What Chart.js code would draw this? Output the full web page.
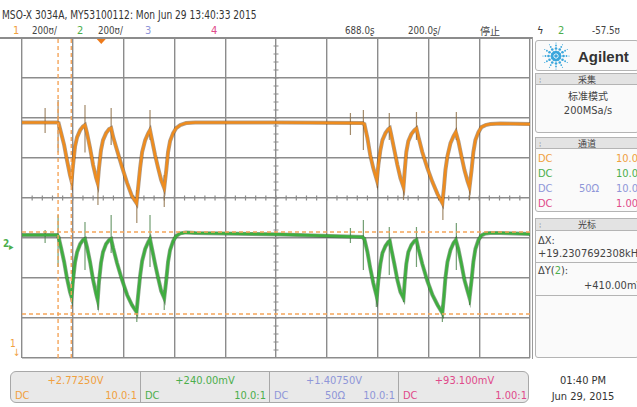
<!DOCTYPE html>
<html>
<head>
<meta charset="utf-8">
<script src="https://cdn.jsdelivr.net/npm/chart.js@4.4.0/dist/chart.umd.min.js"></script>
<style>
body { margin: 0; width: 637px; height: 407px; background: #fff; position: relative; overflow: hidden;
       font-family: "Liberation Sans Narrow", "DejaVu Sans Condensed", "Liberation Sans", sans-serif; color: #444; }
.t { position: absolute; white-space: nowrap; font-size: 11px; line-height: 12px; }
.n { transform: scaleX(0.88); transform-origin: left center; }
.cjk { font-family: "Noto Sans CJK SC", sans-serif; font-size: 10px; }
.box { position: absolute; border: 1px solid #b4b4b4; border-radius: 3px; background: #fafafa; box-sizing: border-box; }
.hdr { position: absolute; background: #e3e3e3; border: 1px solid #b4b4b4; box-sizing: border-box; text-align: center;
       font-family: "Noto Sans CJK SC", sans-serif; font-size: 9px; line-height: 11px; color: #444; }
.hdr span { position: absolute; left: 3px; color: #999; font-size: 8px; }
#plot { position: absolute; left: 21px; top: 37px; }
.cell { position: absolute; top: 0; height: 100%; border-right: 1px solid #a8a8a8; box-sizing: border-box; }
.cell .v { position: absolute; top: 2px; width: 100%; text-align: center; font-size: 11px; }
.cell .l { position: absolute; left: 4px; top: 17px; font-size: 11px; }
.cell .r { position: absolute; right: 3px; top: 17px; font-size: 11px; }
.cell .m { position: absolute; top: 17px; font-size: 11px; }
</style>
</head>
<body>
<!-- header -->
<div class="t n" style="left:2px;top:9px;font-size:11.5px;color:#333">MSO-X 3034A, MY53100112: Mon Jun 29 13:40:33 2015</div>
<div class="t" style="left:13px;top:25px;color:#f0a040">1</div>
<div class="t n" style="left:32px;top:25px">200ʊ/</div>
<div class="t" style="left:77px;top:25px;color:#4cae4c">2</div>
<div class="t n" style="left:98px;top:25px">200ʊ/</div>
<div class="t" style="left:145px;top:25px;color:#8f96d8">3</div>
<div class="t" style="left:211px;top:25px;color:#e04a8a">4</div>
<div class="t n" style="left:345px;top:25px">688.0ʂ</div>
<div class="t n" style="left:408px;top:25px">200.0ʂ/</div>
<div class="t cjk" style="left:480px;top:25px">停止</div>
<div class="t" style="left:537px;top:25px;color:#333">ϟ</div>
<div class="t" style="left:558px;top:25px;color:#4cae4c">2</div>
<div class="t n" style="left:592px;top:25px">-57.5ʊ</div>
<div style="position:absolute;left:0;top:37px;width:532px;height:2px;background:#8c8c8c"></div>
<div style="position:absolute;left:532px;top:37px;width:1px;height:322px;background:#9a9a9a"></div>

<!-- plot -->
<canvas id="plot" width="510" height="322"></canvas>

<!-- channel markers at left -->
<div class="t" style="left:3px;top:238px;font-size:10px;color:#4cae4c;font-weight:bold">2</div>
<div class="t" style="left:9px;top:241px;font-size:10px;color:#4cae4c">▸</div>
<div class="t" style="left:10px;top:338px;font-size:10px;color:#f0a040">1</div>
<div class="t" style="left:13px;top:347px;font-size:10px;color:#f0a040">↓</div>

<!-- right panel -->
<div class="box" style="left:535px;top:40px;width:104px;height:31px">
  <svg id="logo" width="30" height="30" style="position:absolute;left:5px;top:0"></svg>
  <div class="t" style="left:42px;top:8px;font-family:'Liberation Sans',sans-serif;font-weight:bold;font-size:15px;line-height:15px;color:#333">Agilent</div>
</div>
<div class="hdr" style="left:535px;top:73px;width:104px;height:12px"><span>⁞</span>采集</div>
<div class="box" style="left:535px;top:84px;width:104px;height:49px;border-radius:0 0 3px 3px">
  <div class="t cjk" style="left:0;width:104px;text-align:center;top:5px">标准模式</div>
  <div class="t" style="left:0;width:104px;text-align:center;top:20px">200MSa/s</div>
</div>
<div class="hdr" style="left:535px;top:137px;width:104px;height:12px"><span>⁞</span>通道</div>
<div class="box" style="left:535px;top:148px;width:104px;height:64px;border-radius:0 0 3px 3px">
  <div class="t" style="left:2px;top:4px;color:#f0a040">DC</div><div class="t" style="left:80px;top:4px;color:#f0a040">10.0:1</div>
  <div class="t" style="left:2px;top:19px;color:#4cae4c">DC</div><div class="t" style="left:80px;top:19px;color:#4cae4c">10.0:1</div>
  <div class="t" style="left:2px;top:34px;color:#8f96d8">DC</div><div class="t" style="left:43px;top:34px;color:#8f96d8">50Ω</div><div class="t" style="left:80px;top:34px;color:#8f96d8">10.0:1</div>
  <div class="t" style="left:2px;top:49px;color:#e04a8a">DC</div><div class="t" style="left:80px;top:49px;color:#e04a8a">1.00:1</div>
</div>
<div class="hdr" style="left:535px;top:218px;width:104px;height:13px"><span>⁞</span>光标</div>
<div class="box" style="left:535px;top:230px;width:104px;height:128px;border-radius:0 0 3px 3px;overflow:hidden">
  <div class="t" style="left:2px;top:4px">ΔX:</div>
  <div class="t" style="left:2px;top:17px">+19.2307692308kHz</div>
  <div style="position:absolute;left:0;top:31px;width:104px;height:1px;background:#b4b4b4"></div>
  <div class="t" style="left:2px;top:34px">ΔY(<span style="color:#4cae4c">2</span>):</div>
  <div class="t" style="left:48px;top:49px">+410.00mV</div>
  <div style="position:absolute;left:0;top:64px;width:104px;height:1px;background:#b4b4b4"></div>
</div>

<!-- bottom bar -->
<div style="position:absolute;left:10px;top:371px;width:519px;height:32px;background:#e9e9e9;border:1px solid #a8a8a8;border-radius:6px;box-sizing:border-box;overflow:hidden">
  <div class="cell" style="left:0;width:130px;color:#f0a040"><div class="v">+2.77250V</div><div class="l">DC</div><div class="r">10.0:1</div></div>
  <div class="cell" style="left:130px;width:129px;color:#4cae4c"><div class="v">+240.00mV</div><div class="l">DC</div><div class="r">10.0:1</div></div>
  <div class="cell" style="left:259px;width:129px;color:#8f96d8"><div class="v">+1.40750V</div><div class="l">DC</div><div class="m" style="left:55px">50Ω</div><div class="r">10.0:1</div></div>
  <div class="cell" style="left:388px;width:131px;color:#e04a8a;border-right:none"><div class="v">+93.100mV</div><div class="l">DC</div><div class="r">1.00:1</div></div>
</div>
<div class="t" style="left:533px;top:375px;width:100px;text-align:center;color:#333">01:40 PM</div>
<div class="t" style="left:533px;top:391px;width:100px;text-align:center;color:#333">Jun 29, 2015</div>

<script>
// time in microseconds, probe voltages in volts
const timeUs = [-312, -174, -168, -158, -146, -135, -123, -117, -111, -103,
  -95, -83, -72, -64, -56, -44, -32, -20, -14, -9,
  -1, 7, 19, 31, 39, 47, 62, 82, 102, 121,
  139, 145, 153, 161, 173, 185, 192, 200, 212, 224,
  236, 248, 256, 263, 271, 283, 295, 311, 334, 370,
  705, 1028, 1036, 1048, 1059, 1071, 1085, 1091, 1099, 1107,
  1119, 1130, 1136, 1142, 1154, 1166, 1178, 1190, 1195, 1201,
  1209, 1221, 1233, 1241, 1249, 1264, 1284, 1304, 1324, 1343,
  1349, 1355, 1363, 1375, 1387, 1396, 1406, 1418, 1430, 1442,
  1450, 1458, 1465, 1473, 1485, 1497, 1513, 1532, 1572, 1688];
const ch1Volts = [3.15, 3.15, 3.147, 3.097, 3.037, 2.962, 2.887, 2.857, 2.937, 3.032,
  3.077, 3.112, 3.13, 3.137, 3.097, 3.022, 2.937, 2.872, 2.847, 2.922,
  3.012, 3.062, 3.097, 3.117, 3.122, 3.077, 3.012, 2.927, 2.847, 2.782,
  2.747, 2.822, 2.922, 3.002, 3.062, 3.097, 3.112, 3.062, 2.987, 2.922,
  2.862, 2.822, 2.912, 3.002, 3.057, 3.097, 3.122, 3.137, 3.147, 3.15,
  3.15, 3.147, 3.142, 3.072, 2.987, 2.922, 2.862, 2.937, 3.012, 3.062,
  3.097, 3.117, 3.122, 3.087, 3.012, 2.937, 2.872, 2.827, 2.912, 3.002,
  3.057, 3.092, 3.112, 3.12, 3.077, 3.002, 2.922, 2.852, 2.792, 2.747,
  2.822, 2.912, 2.982, 3.047, 3.082, 3.102, 3.057, 2.982, 2.912, 2.857,
  2.827, 2.912, 3.002, 3.062, 3.102, 3.127, 3.137, 3.142, 3.145, 3.142];
const ch2Volts = [0.055, 0.055, 0.045, -0.01, -0.08, -0.16, -0.23, -0.255, -0.17, -0.08,
  -0.03, 0.01, 0.03, 0.035, -0.005, -0.08, -0.17, -0.24, -0.27, -0.18,
  -0.085, -0.03, 0.01, 0.03, 0.035, -0.01, -0.085, -0.17, -0.245, -0.295,
  -0.33, -0.25, -0.15, -0.075, -0.015, 0.02, 0.035, -0.015, -0.09, -0.16,
  -0.225, -0.26, -0.17, -0.08, -0.02, 0.025, 0.05, 0.063, 0.068, 0.065,
  0.058, 0.045, 0.035, -0.03, -0.11, -0.185, -0.255, -0.17, -0.09, -0.035,
  0, 0.02, 0.025, -0.015, -0.09, -0.17, -0.23, -0.26, -0.175, -0.09,
  -0.03, 0.005, 0.025, 0.03, -0.015, -0.09, -0.175, -0.245, -0.295, -0.335,
  -0.255, -0.16, -0.08, -0.02, 0.015, 0.03, -0.015, -0.09, -0.17, -0.225,
  -0.26, -0.17, -0.08, -0.015, 0.03, 0.053, 0.063, 0.065, 0.065, 0.06];

// switching glitches (thin vertical spikes)
const spike1Times = [-221, -170, -64, -13, 39, 140, 192, 248, 981, 1032, 1087, 1134, 1190, 1241, 1345, 1398, 1450];
const spike1Top = [3.222, 3.262, 3.237, 2.887, 3.222, 2.812, 3.212, 2.887, 3.197, 3.212, 2.877, 3.197, 2.862, 3.202, 2.787, 3.202, 2.862];
const spike1Bottom = [3.097, 3.0, 3.0, 2.737, 3.037, 2.647, 3.062, 2.727, 3.087, 3.012, 2.822, 3.062, 2.762, 3.062, 2.662, 3.062, 2.762];
const spike2Times = [-221, -170, -64, -13, 39, 140, 192, 248, 981, 1032, 1083, 1134, 1190, 1241, 1343, 1398, 1450];
const spike2Top = [0.08, 0.155, 0.12, -0.22, 0.155, -0.295, 0.155, -0.22, 0.09, 0.13, -0.22, 0.095, -0.22, 0.095, -0.295, 0.115, -0.22];
const spike2Bottom = [0.015, -0.105, -0.12, -0.32, -0.035, -0.38, -0.105, -0.32, 0.015, -0.12, -0.305, -0.145, -0.28, -0.105, -0.38, -0.12, -0.295];

// cursors: X1/X2 in us, Y1/Y2 on channel 2 in V
const cursorX = [-170, -118];
const cursorY = [0.07, -0.34];

// screen ranges: 200us/div with 688us delay, 200mV/div with channel offsets
const timeRange = [-312, 1688];
const ch1Range = [1.9725, 3.5725];
const ch2Range = [-0.56, 1.04];
const triggerTime = 0;

function trace(volts) {
  return timeUs.map((t, i) => ({ x: t, y: volts[i] }));
}
function spikes(times, tops, bottoms) {
  const pts = [];
  times.forEach((t, i) => {
    pts.push({ x: t, y: tops[i] }, { x: t, y: bottoms[i] }, { x: t, y: null });
  });
  return pts;
}

const cursorColor = '#f5a55a';
const datasets = [];
cursorX.forEach(c => datasets.push({
  data: [{ x: c, y: ch2Range[0] }, { x: c, y: ch2Range[1] }], yAxisID: 'y2',
  borderColor: cursorColor, borderWidth: 1.4, borderDash: [4, 3], order: 0
}));
cursorY.forEach(c => datasets.push({
  data: [{ x: timeRange[0], y: c }, { x: timeRange[1], y: c }], yAxisID: 'y2',
  borderColor: cursorColor, borderWidth: 1.4, borderDash: [4, 3], order: 0
}));
datasets.push(
  { data: trace(ch1Volts), yAxisID: 'y1', borderColor: '#ee8c1e', borderWidth: 2.6, order: 1 },
  { data: trace(ch2Volts), yAxisID: 'y2', borderColor: '#3fae3f', borderWidth: 2.6, order: 1 },
  { data: trace(ch1Volts), yAxisID: 'y1', borderColor: 'rgba(95,60,25,0.5)', borderWidth: 4, order: 2 },
  { data: trace(ch2Volts), yAxisID: 'y2', borderColor: 'rgba(25,75,25,0.5)', borderWidth: 4, order: 2 },
  { data: spikes(spike1Times, spike1Top, spike1Bottom), yAxisID: 'y1', borderColor: 'rgba(140,110,70,0.8)', borderWidth: 1.2, order: 3 },
  { data: spikes(spike2Times, spike2Top, spike2Bottom), yAxisID: 'y2', borderColor: 'rgba(80,135,80,0.8)', borderWidth: 1.2, order: 3 }
);

const gridColor = '#8c8c8c';
const scopeMarks = {
  id: 'scopeMarks',
  beforeDatasetsDraw(chart) {
    const { ctx, scales: { gx, gy } } = chart;
    const cx = gx.getPixelForValue(5), cy = gy.getPixelForValue(0);
    ctx.save();
    ctx.strokeStyle = gridColor;
    ctx.lineWidth = 1.2;
    ctx.beginPath();
    for (let i = 1; i < 50; i++) {
      const px = gx.getPixelForValue(i / 5);
      ctx.moveTo(px, cy - 2.5); ctx.lineTo(px, cy + 2.5);
    }
    for (let i = 1; i < 40; i++) {
      const py = gy.getPixelForValue(-4 + i / 5);
      ctx.moveTo(cx - 2.5, py); ctx.lineTo(cx + 2.5, py);
    }
    ctx.stroke();
    ctx.restore();
  },
  afterDraw(chart) {
    // trigger point marker on the top edge
    const { ctx, chartArea, scales: { x } } = chart;
    const tx = x.getPixelForValue(triggerTime);
    ctx.save();
    ctx.fillStyle = '#ee7a1a';
    ctx.beginPath();
    ctx.moveTo(tx - 4.5, chartArea.top + 1);
    ctx.lineTo(tx + 4.5, chartArea.top + 1);
    ctx.lineTo(tx, chartArea.top + 6);
    ctx.closePath();
    ctx.fill();
    ctx.restore();
  }
};

const hidden = { display: false };
new Chart(document.getElementById('plot'), {
  type: 'line',
  data: { datasets },
  options: {
    responsive: false,
    animation: false,
    layout: { padding: 1 },
    elements: { point: { radius: 0 }, line: { tension: 0 } },
    plugins: { legend: hidden, tooltip: { enabled: false } },
    scales: {
      x: { type: 'linear', min: timeRange[0], max: timeRange[1], display: false },
      y1: { type: 'linear', min: ch1Range[0], max: ch1Range[1], display: false },
      y2: { type: 'linear', min: ch2Range[0], max: ch2Range[1], display: false },
      gx: { type: 'linear', axis: 'x', position: 'bottom', min: 0, max: 10,
            ticks: { display: false, stepSize: 1 }, border: { display: false },
            grid: { drawTicks: false, color: gridColor, lineWidth: 1.4 } },
      gy: { type: 'linear', axis: 'y', position: 'left', min: -4, max: 4,
            ticks: { display: false, stepSize: 1 }, border: { display: false },
            grid: { drawTicks: false, color: gridColor, lineWidth: 1.4 } }
    }
  },
  plugins: [scopeMarks]
});

// Agilent spark logo
const svg = document.getElementById('logo');
let dots = '';
for (let k = 0; k < 12; k++) {
  const a = k * Math.PI / 6;
  [[4, 1.6], [7.5, 1.3], [10.5, 0.9], [13, 0.6]].forEach(([r, s]) => {
    dots += `<circle cx="${15 + r * Math.cos(a)}" cy="${15 + r * Math.sin(a)}" r="${s}" fill="#39a6dc"/>`;
  });
}
dots += '<circle cx="15" cy="15" r="1.8" fill="#39a6dc"/>';
svg.innerHTML = dots;
</script>
</body>
</html>
